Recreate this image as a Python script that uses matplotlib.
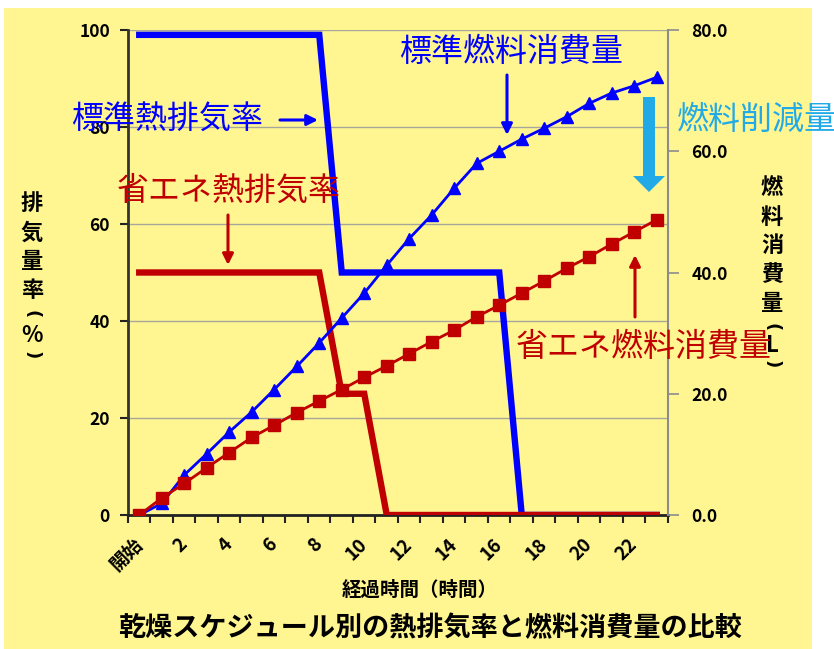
import numpy as np
import matplotlib
matplotlib.use("Agg")
import matplotlib.pyplot as plt
import matplotlib.patches as mpatches
from matplotlib.transforms import IdentityTransform

plt.rcParams['font.family'] = ['Noto Sans CJK JP', 'DejaVu Sans']

# data
categories = ['開始', '1', '2', '3', '4', '5', '6', '7', '8', '9', '10', '11',
              '12', '13', '14', '15', '16', '17', '18', '19', '20', '21', '22', '23']
std_exhaust = [99, 99, 99, 99, 99, 99, 99, 99, 99, 50, 50, 50,
               50, 50, 50, 50, 50, 0, 0, 0, 0, 0, 0, 0]
eco_exhaust = [50, 50, 50, 50, 50, 50, 50, 50, 50, 25, 25, 0,
               0, 0, 0, 0, 0, 0, 0, 0, 0, 0, 0, 0]
std_fuel = [0, 1.9, 6.6, 10.1, 13.7, 17.0, 20.7, 24.5, 28.4, 32.5, 36.6, 41.2,
            45.6, 49.5, 53.9, 58.0, 60.0, 62.0, 63.8, 65.7, 67.9, 69.6, 70.8, 72.2]
eco_fuel = [0, 2.8, 5.2, 7.8, 10.3, 12.8, 14.8, 16.9, 18.8, 20.7, 22.7, 24.6,
            26.6, 28.6, 30.5, 32.7, 34.6, 36.6, 38.6, 40.7, 42.6, 44.7, 46.7, 48.7]

BLUE = '#0000ff'
RED = '#c00000'
SKY = '#22aae6'
W, H = 834, 649


def px(x, y):
    # image pixel (top-left origin) -> figure fraction
    return x / W, 1 - y / H


fig = plt.figure(figsize=(W / 100, H / 100), dpi=100, facecolor='white')
fig.add_artist(mpatches.Rectangle(px(4, 649), 808 / W, 641 / H, transform=fig.transFigure,
                                  facecolor='#fff692', edgecolor='none', zorder=0))

ax = fig.add_axes([128 / W, 1 - 515 / H, 540 / W, 485 / H])
ax.set_facecolor('none')
x = np.arange(len(categories))

ax.plot(x, std_exhaust, color=BLUE, lw=4.6, zorder=3, solid_joinstyle='miter')
ax.plot(x, eco_exhaust, color=RED, lw=4.6, zorder=4, solid_joinstyle='miter')
ax.set_xlim(-0.5, len(categories) - 0.5)
ax.set_ylim(0, 100)
ax.set_yticks([0, 20, 40, 60, 80, 100])
ax.grid(axis='y', color='#a8a69a', lw=1)
ax.set_axisbelow(True)

# tick marks on category boundaries, labels on every other category
ax.set_xticks(np.arange(-0.5, len(categories), 1.0))
ax.set_xticklabels([])
ax.tick_params(axis='x', which='major', length=6, width=1.5, color='#222222')
ax.set_xticks(x[::2], minor=True)
ax.set_xticklabels(categories[::2], minor=True, rotation=45, ha='right', va='center',
                   rotation_mode='anchor', fontsize=13.5, fontweight='bold')
ax.tick_params(axis='x', which='minor', length=0, pad=19)
ax.tick_params(axis='y', length=6, width=1.5, color='#222222', pad=7)
for lab in ax.get_yticklabels():
    lab.set_fontsize(12.5)
    lab.set_fontweight('bold')

for s in ['top', 'right']:
    ax.spines[s].set_visible(False)
ax.spines['left'].set_color('#333333')
ax.spines['left'].set_linewidth(2)
ax.spines['bottom'].set_color('#222222')
ax.spines['bottom'].set_linewidth(2)

ax2 = ax.twinx()
ax2.plot(x, std_fuel, color=BLUE, lw=2, marker='^', ms=9, zorder=3)
ax2.plot(x, eco_fuel, color=RED, lw=2, marker='s', ms=8, zorder=4)
ax2.set_ylim(0, 80)
ax2.set_yticks([0, 20, 40, 60, 80])
ax2.set_yticklabels(['%.1f' % v for v in [0, 20, 40, 60, 80]], fontsize=12.5, fontweight='bold')
ax2.tick_params(axis='y', length=8, width=1.2, color='#8c8c8c', pad=9)
for s in ['top', 'left', 'bottom']:
    ax2.spines[s].set_visible(False)
ax2.spines['right'].set_color('#8c8c8c')
ax2.spines['right'].set_linewidth(1.5)

# vertical axis titles, one character at a time (brackets turned sideways)
left_chars = [('排', 203), ('気', 233), ('量', 262), ('率', 290), ('(', 314), ('%', 335), (')', 355)]
right_chars = [('燃', 188), ('料', 217), ('消', 245), ('費', 275), ('量', 303),
               ('(', 327), ('L', 346), (')', 364)]
for xx, chars in [(32, left_chars), (772, right_chars)]:
    for ch, yy in chars:
        if ch in '()':
            fig.text(*px(xx, yy), ch, ha='center', va='center', fontsize=13, fontweight='bold',
                     rotation=-90, family='DejaVu Sans')
        else:
            fig.text(*px(xx, yy), ch, ha='center', va='center', fontsize=16, fontweight='bold')

fig.text(*px(420, 590), '経過時間（時間）', ha='center', va='center', fontsize=14, fontweight='bold')
fig.text(*px(430, 628), '乾燥スケジュール別の熱排気率と燃料消費量の比較', ha='center', va='center',
         fontsize=19.5, fontweight='bold')

# annotations
fs = 23
fig.text(*px(167, 120), '標準熱排気率', ha='center', va='center', fontsize=fs, color=BLUE, zorder=10)
fig.text(*px(229, 191), '省エネ熱排気率', ha='center', va='center', fontsize=fs, color=RED, zorder=10)
fig.text(*px(511, 52), '標準燃料消費量', ha='center', va='center', fontsize=fs, color=BLUE, zorder=10)
fig.text(*px(644, 347), '省エネ燃料消費量', ha='center', va='center', fontsize=fs, color=RED, zorder=10)
fig.text(*px(677, 120), '燃料削減量', ha='left', va='center', fontsize=fs, color=SKY, zorder=10)


def arrow(x0, y0, x1, y1, color):
    fig.add_artist(mpatches.FancyArrowPatch(px(x0, y0), px(x1, y1), transform=fig.transFigure,
                                            arrowstyle='-|>', mutation_scale=16, lw=2.2,
                                            color=color, zorder=10, shrinkA=0, shrinkB=0))


arrow(280, 120, 318, 120, BLUE)
arrow(228, 215, 228, 265, RED)
arrow(507, 75, 507, 135, BLUE)
arrow(635, 317, 635, 255, RED)

fig.add_artist(mpatches.FancyArrow(649, H - 97, 0, -95, width=12, head_width=32, head_length=16,
                                   length_includes_head=True, transform=IdentityTransform(),
                                   facecolor=SKY, edgecolor='none', zorder=10))

fig.savefig('out.png', dpi=100, facecolor=fig.get_facecolor())
